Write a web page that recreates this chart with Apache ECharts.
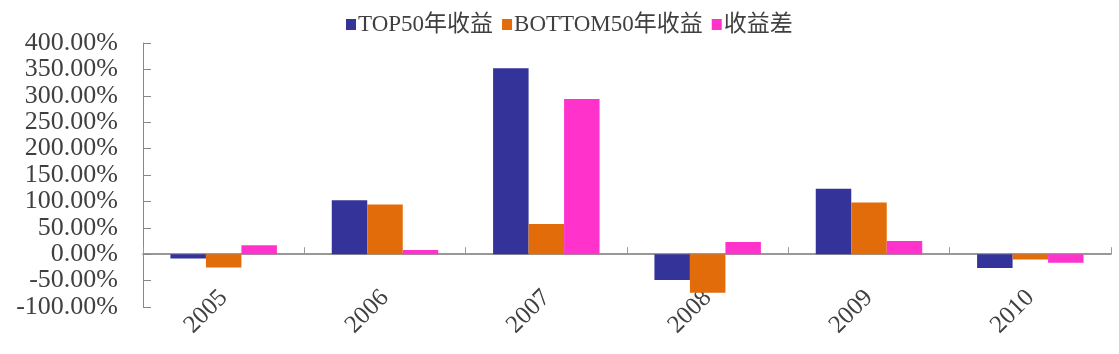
<!DOCTYPE html>
<html>
<head>
<meta charset="utf-8">
<script src="https://cdn.jsdelivr.net/npm/echarts@6/dist/echarts.min.js"></script>
<style>
html,body{margin:0;padding:0;background:#fff;}
#c{width:1119px;height:354px;}
</style>
</head>
<body>
<div id="c"></div>
<script>
const categories = ['2005', '2006', '2007', '2008', '2009', '2010'];
const top50 = [-8, 102, 352, -49, 124, -26];
const bottom50 = [-25, 94, 57, -73, 98, -10];
const diff = [17, 8, 294, 23, 25, -16];
const seriesNames = ['TOP50年收益', 'BOTTOM50年收益', '收益差'];

const FONT = "'Liberation Serif', 'Noto Sans CJK SC', serif";
const chart = echarts.init(document.getElementById('c'));
chart.setOption({
  animation: false,
  backgroundColor: '#fff',
  textStyle: { fontFamily: FONT },
  legend: {
    data: seriesNames,
    top: 8,
    left: 341,
    itemWidth: 10,
    itemHeight: 11,
    itemGap: 9,
    icon: 'rect',
    textStyle: { fontFamily: FONT, fontSize: 23, color: '#404040', padding: [0, 0, 0, -3] }
  },
  grid: { left: 143, right: 8, top: 43, bottom: 47, containLabel: false },
  xAxis: [
    {
      type: 'category',
      data: categories,
      position: 'bottom',
      axisLine: { show: false, onZero: false },
      axisTick: { show: false },
      axisLabel: {
        rotate: 45, margin: -13, fontFamily: FONT, fontSize: 25, color: '#404040'
      }
    },
    {
      type: 'category',
      data: categories,
      position: 'bottom',
      axisLine: { show: true, onZero: true, lineStyle: { color: '#777', width: 1.5 } },
      axisTick: { show: true, inside: true, length: 7, lineStyle: { color: '#999' } },
      axisLabel: { show: false }
    }
  ],
  yAxis: {
    type: 'value',
    min: -100, max: 400, interval: 50,
    axisLine: { show: true, lineStyle: { color: '#888' } },
    axisTick: { show: true, inside: true, length: 8, lineStyle: { color: '#888' } },
    splitLine: { show: false },
    axisLabel: {
      margin: 25, fontFamily: FONT, fontSize: 26, color: '#404040',
      formatter: v => v.toFixed(2) + '%'
    }
  },
  series: [
    { name: seriesNames[0], type: 'bar', data: top50, xAxisIndex: 0, barGap: '0%', barCategoryGap: '34%',
      itemStyle: { color: '#333399' } },
    { name: seriesNames[1], type: 'bar', data: bottom50, xAxisIndex: 0, barGap: '0%', barCategoryGap: '34%',
      itemStyle: { color: '#E36C0A' } },
    { name: seriesNames[2], type: 'bar', data: diff, xAxisIndex: 0, barGap: '0%', barCategoryGap: '34%',
      itemStyle: { color: '#FF33CC' } }
  ]
});
</script>
</body>
</html>
